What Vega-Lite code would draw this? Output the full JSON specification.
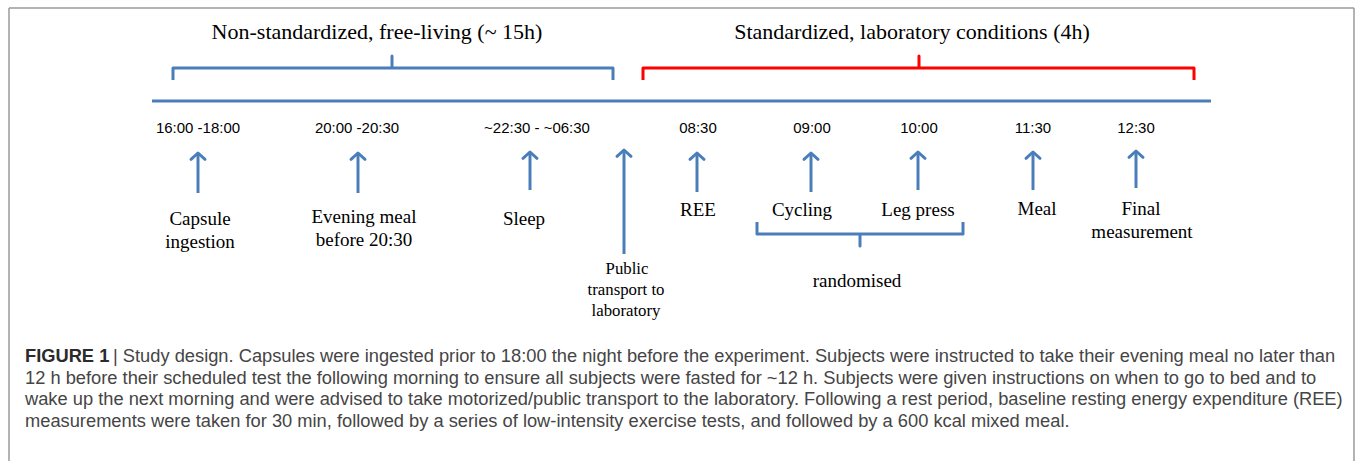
{
  "$schema": "https://vega.github.io/schema/vega-lite/v6.json",
  "width": 1357,
  "height": 461,
  "padding": 0,
  "autosize": {"type": "none"},
  "background": "white",
  "config": {"view": {"stroke": null}},
  "datasets": {
    "frame": [
      {"x": 9, "y": 8, "x2": 9, "y2": 470},
      {"x": 9, "y": 8, "x2": 1354, "y2": 8},
      {"x": 1354, "y": 8, "x2": 1354, "y2": 470}
    ],
    "segs": [
      {"x": 152, "y": 101, "x2": 1211, "y2": 101},
      {"x": 198, "y": 154, "x2": 198, "y2": 193},
      {"x": 358, "y": 154, "x2": 358, "y2": 193},
      {"x": 530, "y": 153, "x2": 530, "y2": 190},
      {"x": 624, "y": 151, "x2": 624, "y2": 254},
      {"x": 697, "y": 154, "x2": 697, "y2": 192},
      {"x": 811, "y": 154, "x2": 811, "y2": 192},
      {"x": 918, "y": 153, "x2": 918, "y2": 190},
      {"x": 1033, "y": 153, "x2": 1033, "y2": 190},
      {"x": 1136, "y": 152, "x2": 1136, "y2": 188}
    ],
    "heads": [
      {"x": 198, "y": 153},
      {"x": 358, "y": 153},
      {"x": 530, "y": 152},
      {"x": 624, "y": 150},
      {"x": 697, "y": 153},
      {"x": 811, "y": 153},
      {"x": 918, "y": 152},
      {"x": 1033, "y": 152},
      {"x": 1136, "y": 151}
    ],
    "brackets": [
      {"id": "free", "o": 1, "x": 173, "y": 80},
      {"id": "free", "o": 2, "x": 173, "y": 68},
      {"id": "free", "o": 3, "x": 392, "y": 68},
      {"id": "free", "o": 4, "x": 392, "y": 56},
      {"id": "free", "o": 5, "x": 392, "y": 68},
      {"id": "free", "o": 6, "x": 613, "y": 68},
      {"id": "free", "o": 7, "x": 613, "y": 80},
      {"id": "lab", "o": 1, "x": 643, "y": 80},
      {"id": "lab", "o": 2, "x": 643, "y": 68},
      {"id": "lab", "o": 3, "x": 919, "y": 68},
      {"id": "lab", "o": 4, "x": 919, "y": 56},
      {"id": "lab", "o": 5, "x": 919, "y": 68},
      {"id": "lab", "o": 6, "x": 1194, "y": 68},
      {"id": "lab", "o": 7, "x": 1194, "y": 80},
      {"id": "rand", "o": 1, "x": 757, "y": 222},
      {"id": "rand", "o": 2, "x": 757, "y": 234},
      {"id": "rand", "o": 3, "x": 860, "y": 234},
      {"id": "rand", "o": 4, "x": 860, "y": 246},
      {"id": "rand", "o": 5, "x": 860, "y": 234},
      {"id": "rand", "o": 6, "x": 963, "y": 234},
      {"id": "rand", "o": 7, "x": 963, "y": 222}
    ],
    "titles": [
      {"x": 377, "y": 32, "t": "Non-standardized, free-living (~ 15h)"},
      {"x": 912, "y": 32, "t": "Standardized, laboratory conditions (4h)"}
    ],
    "times": [
      {"x": 198, "y": 128, "t": "16:00 -18:00"},
      {"x": 357, "y": 128, "t": "20:00 -20:30"},
      {"x": 537, "y": 128, "t": "~22:30 - ~06:30"},
      {"x": 698, "y": 128, "t": "08:30"},
      {"x": 812, "y": 128, "t": "09:00"},
      {"x": 919, "y": 128, "t": "10:00"},
      {"x": 1033, "y": 128, "t": "11:30"},
      {"x": 1136, "y": 128, "t": "12:30"}
    ],
    "events": [
      {"x": 200, "y": 219, "t": "Capsule"},
      {"x": 200, "y": 242, "t": "ingestion"},
      {"x": 364, "y": 217, "t": "Evening meal"},
      {"x": 364, "y": 240, "t": "before 20:30"},
      {"x": 524, "y": 219, "t": "Sleep"},
      {"x": 698, "y": 210, "t": "REE"},
      {"x": 802, "y": 210, "t": "Cycling"},
      {"x": 918, "y": 210, "t": "Leg press"},
      {"x": 1037, "y": 209, "t": "Meal"},
      {"x": 1141, "y": 209, "t": "Final"},
      {"x": 1142, "y": 232, "t": "measurement"},
      {"x": 857, "y": 281, "t": "randomised"}
    ],
    "public": [
      {"x": 627, "y": 269, "t": "Public"},
      {"x": 626, "y": 290, "t": "transport to"},
      {"x": 626, "y": 311, "t": "laboratory"}
    ],
    "capbold": [
      {"x": 25, "y": 357, "t": "FIGURE 1"}
    ],
    "caption": [
      {"x": 113, "y": 357, "t": "| Study design. Capsules were ingested prior to 18:00 the night before the experiment. Subjects were instructed to take their evening meal no later than"},
      {"x": 25, "y": 379, "t": "12 h before their scheduled test the following morning to ensure all subjects were fasted for ~12 h. Subjects were given instructions on when to go to bed and to"},
      {"x": 25, "y": 400, "t": "wake up the next morning and were advised to take motorized/public transport to the laboratory. Following a rest period, baseline resting energy expenditure (REE)"},
      {"x": 25, "y": 422, "t": "measurements were taken for 30 min, followed by a series of low-intensity exercise tests, and followed by a 600 kcal mixed meal."}
    ]
  },
  "layer": [
    {
      "data": {"name": "frame"},
      "mark": {"type": "rule", "color": "#9a9a9a", "strokeWidth": 1.5},
      "encoding": {
        "x": {"field": "x", "type": "quantitative", "scale": {"domain": [0, 1357], "nice": false, "zero": false}, "axis": null},
        "y": {"field": "y", "type": "quantitative", "scale": {"domain": [461, 0], "nice": false, "zero": false}, "axis": null},
        "x2": {"field": "x2"},
        "y2": {"field": "y2"}
      }
    },
    {
      "data": {"name": "segs"},
      "mark": {"type": "rule", "color": "#4a7ebb", "strokeWidth": 3},
      "encoding": {
        "x": {"field": "x", "type": "quantitative", "scale": {"domain": [0, 1357], "nice": false, "zero": false}, "axis": null},
        "y": {"field": "y", "type": "quantitative", "scale": {"domain": [461, 0], "nice": false, "zero": false}, "axis": null},
        "x2": {"field": "x2"},
        "y2": {"field": "y2"}
      }
    },
    {
      "data": {"name": "heads"},
      "mark": {"type": "point", "shape": "M-1,0.9L0,0L1,0.9", "filled": false, "size": 196, "stroke": "#4a7ebb", "strokeWidth": 3, "strokeJoin": "round", "strokeCap": "round", "opacity": 1},
      "encoding": {
        "x": {"field": "x", "type": "quantitative", "scale": {"domain": [0, 1357], "nice": false, "zero": false}, "axis": null},
        "y": {"field": "y", "type": "quantitative", "scale": {"domain": [461, 0], "nice": false, "zero": false}, "axis": null}
      }
    },
    {
      "data": {"name": "brackets"},
      "mark": {"type": "line", "strokeWidth": 3, "strokeJoin": "round", "strokeCap": "butt"},
      "encoding": {
        "x": {"field": "x", "type": "quantitative", "scale": {"domain": [0, 1357], "nice": false, "zero": false}, "axis": null},
        "y": {"field": "y", "type": "quantitative", "scale": {"domain": [461, 0], "nice": false, "zero": false}, "axis": null},
        "order": {"field": "o", "type": "quantitative"},
        "detail": {"field": "id"},
        "color": {"field": "id", "type": "nominal", "scale": {"domain": ["free", "lab", "rand"], "range": ["#4a7ebb", "#ff0000", "#4a7ebb"]}, "legend": null}
      }
    },
    {
      "data": {"name": "titles"},
      "mark": {"type": "text", "font": "Liberation Serif", "fontSize": 22, "color": "#000000", "align": "center", "baseline": "middle"},
      "encoding": {
        "x": {"field": "x", "type": "quantitative", "scale": {"domain": [0, 1357], "nice": false, "zero": false}, "axis": null},
        "y": {"field": "y", "type": "quantitative", "scale": {"domain": [461, 0], "nice": false, "zero": false}, "axis": null},
        "text": {"field": "t"}
      }
    },
    {
      "data": {"name": "times"},
      "mark": {"type": "text", "font": "Liberation Sans", "fontSize": 15, "color": "#000000", "align": "center", "baseline": "middle"},
      "encoding": {
        "x": {"field": "x", "type": "quantitative", "scale": {"domain": [0, 1357], "nice": false, "zero": false}, "axis": null},
        "y": {"field": "y", "type": "quantitative", "scale": {"domain": [461, 0], "nice": false, "zero": false}, "axis": null},
        "text": {"field": "t"}
      }
    },
    {
      "data": {"name": "events"},
      "mark": {"type": "text", "font": "Liberation Serif", "fontSize": 19, "color": "#000000", "align": "center", "baseline": "middle"},
      "encoding": {
        "x": {"field": "x", "type": "quantitative", "scale": {"domain": [0, 1357], "nice": false, "zero": false}, "axis": null},
        "y": {"field": "y", "type": "quantitative", "scale": {"domain": [461, 0], "nice": false, "zero": false}, "axis": null},
        "text": {"field": "t"}
      }
    },
    {
      "data": {"name": "public"},
      "mark": {"type": "text", "font": "Liberation Serif", "fontSize": 16.8, "color": "#000000", "align": "center", "baseline": "middle"},
      "encoding": {
        "x": {"field": "x", "type": "quantitative", "scale": {"domain": [0, 1357], "nice": false, "zero": false}, "axis": null},
        "y": {"field": "y", "type": "quantitative", "scale": {"domain": [461, 0], "nice": false, "zero": false}, "axis": null},
        "text": {"field": "t"}
      }
    },
    {
      "data": {"name": "capbold"},
      "mark": {"type": "text", "font": "Liberation Sans", "fontSize": 18.3, "fontWeight": "bold", "color": "#2b2b2b", "align": "left", "baseline": "middle"},
      "encoding": {
        "x": {"field": "x", "type": "quantitative", "scale": {"domain": [0, 1357], "nice": false, "zero": false}, "axis": null},
        "y": {"field": "y", "type": "quantitative", "scale": {"domain": [461, 0], "nice": false, "zero": false}, "axis": null},
        "text": {"field": "t"}
      }
    },
    {
      "data": {"name": "caption"},
      "mark": {"type": "text", "font": "Liberation Sans", "fontSize": 18.3, "color": "#454545", "align": "left", "baseline": "middle"},
      "encoding": {
        "x": {"field": "x", "type": "quantitative", "scale": {"domain": [0, 1357], "nice": false, "zero": false}, "axis": null},
        "y": {"field": "y", "type": "quantitative", "scale": {"domain": [461, 0], "nice": false, "zero": false}, "axis": null},
        "text": {"field": "t"}
      }
    }
  ]
}
